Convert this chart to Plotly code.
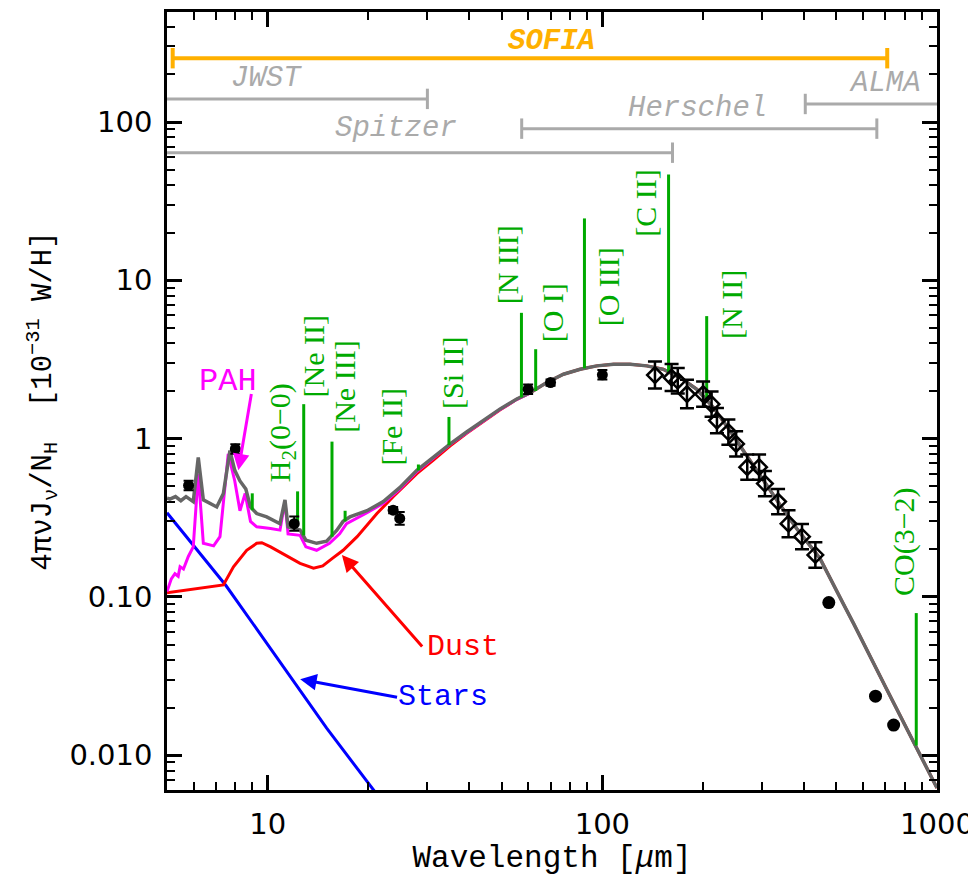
import math
import plotly.graph_objects as go

# ---------------- data ----------------
# total model (gray)
total_wl = [5.0, 5.1, 5.3, 5.5, 5.7, 5.99, 6.2, 6.42, 7.04, 7.37, 7.71, 7.97, 8.26, 8.6, 8.88,
            9.27, 9.93, 10.88, 11.26, 11.5, 12.49, 13.0, 14.0, 15.0, 16.07, 16.8, 17.6, 19.8,
            22.15, 24.8, 27.9, 31.2, 35.1, 39.3, 44.1, 49.5, 55.5, 60.8, 68.2, 76.5, 85.8, 96.2,
            108, 121, 135.8, 152, 170.7, 191.5, 214.8, 240.8, 270, 303, 340, 381, 427, 447, 524,
            563, 708, 833, 1000]
total_val = [0.42, 0.415, 0.43, 0.405, 0.43, 0.40, 0.76, 0.41, 0.37, 0.45, 0.84, 0.63, 0.54, 0.48,
             0.37, 0.336, 0.32, 0.29, 0.41, 0.277, 0.265, 0.228, 0.218, 0.225, 0.263, 0.30, 0.32,
             0.35, 0.40, 0.49, 0.63, 0.76, 0.926, 1.10, 1.30, 1.54, 1.78, 1.95, 2.26, 2.55, 2.74,
             2.88, 2.95, 2.95, 2.88, 2.74, 2.43, 2.05, 1.57, 1.12, 0.78, 0.54, 0.38, 0.27, 0.20,
             0.175, 0.091, 0.068, 0.026, 0.0133, 0.0062]

# dust + PAH (magenta)
pah_wl = [5.0, 5.15, 5.28, 5.4, 5.47, 5.6, 5.79, 5.99, 6.2, 6.42, 6.89, 7.2, 7.62, 7.97, 8.26,
          8.56, 8.88, 9.27, 10.2, 10.88, 11.26, 11.5, 12.49, 13.0, 14.0, 15.3, 16.4, 17.2, 19.8,
          22.15, 24.8, 27.9, 31.2, 35.1, 39.3, 44.1, 49.5, 55.5, 60.8]
pah_val = [0.108, 0.13, 0.14, 0.135, 0.155, 0.15, 0.18, 0.207, 0.60, 0.218, 0.21, 0.24, 0.80, 0.54,
           0.35, 0.45, 0.30, 0.277, 0.27, 0.264, 0.40, 0.25, 0.245, 0.207, 0.197, 0.218, 0.25,
           0.29, 0.34, 0.39, 0.48, 0.62, 0.75, 0.92, 1.09, 1.29, 1.53, 1.77, 1.94]

# dust continuum (red)
dust_wl = [5.0, 7.37, 7.9, 8.65, 9.27, 9.6, 10.2, 11.1, 11.3, 12.49, 13.7, 14.6, 15.6, 16.8, 18.5,
           21.2, 23.7, 27.9, 31.2, 35.1, 39.3, 44.1, 49.5, 55.5, 60.8, 68.2, 76.5, 85.8, 96.2, 108,
           121, 135.8, 152, 170.7, 191.5, 214.8, 240.8, 270, 303, 340, 381, 427, 447, 524, 563,
           708, 833, 1000]
dust_val = [0.106, 0.119, 0.155, 0.197, 0.218, 0.22, 0.207, 0.188, 0.183, 0.163, 0.152, 0.157,
            0.175, 0.197, 0.24, 0.336, 0.43, 0.60, 0.73, 0.90, 1.08, 1.28, 1.52, 1.77, 1.94, 2.26,
            2.55, 2.74, 2.88, 2.95, 2.95, 2.88, 2.74, 2.43, 2.05, 1.57, 1.12, 0.78, 0.54, 0.38,
            0.27, 0.20, 0.175, 0.091, 0.068, 0.026, 0.0133, 0.0062]

# stars (blue)
stars_wl = [5.0, 6.0, 7.5, 10.0, 15.0, 21.0]
stars_val = [0.34, 0.21, 0.118, 0.050, 0.0148, 0.0058]

# photometry: small points with small error bars
phot_wl = [5.8, 8.0, 12.0, 23.7, 24.8, 60, 70, 100]
phot_val = [0.506, 0.86, 0.29, 0.353, 0.313, 2.05, 2.26, 2.53]
phot_err_dex = [0.03, 0.03, 0.045, 0.02, 0.04, 0.03, 0.02, 0.03]

# sub-mm circles
submm_wl = [475, 655, 742]
submm_val = [0.092, 0.0236, 0.0155]

# diamonds with error bars
diam_wl = [143.6, 161, 168, 179, 200, 212, 220, 238, 251, 271, 294, 306, 335, 360, 395, 433]
diam_val = [2.52, 2.43, 2.32, 1.91, 1.91, 1.65, 1.30, 1.10, 0.926, 0.66, 0.66, 0.52, 0.40, 0.29,
            0.24, 0.184]
diam_err_dex = [0.085, 0.085, 0.08, 0.09, 0.08, 0.08, 0.08, 0.08, 0.08, 0.08, 0.08, 0.08, 0.08,
                0.085, 0.08, 0.08]

# emission lines
line_wl = [8.99, 12.28, 12.81, 15.56, 17.03, 28.2, 34.8, 57.3, 63.2, 88.4, 157.7, 205, 867]
line_top = [0.451, 0.464, 1.65, 0.957, 0.35, 0.686, 1.37, 6.23, 3.67, 24.6, 46.6, 5.94, 0.079]
line_bottom = [0.353, 0.28, 0.245, 0.24, 0.30, 0.63, 0.91, 1.82, 2.0, 2.78, 2.62, 1.8, 0.0115]

line_labels = ["H<sub>2</sub>(0\u22120)", "[Ne II]", "[Ne III]", "[Fe II]", "[Si II]", "[N III]",
               "[O I]", "[O III]", "[C II]", "[N II]", "CO(3\u22122)"]
label_wl = [11.0, 13.7, 17.0, 23.5, 35.8, 52.2, 71.0, 104, 135, 242, 800]
label_val = [1.09, 3.33, 2.12, 1.19, 2.60, 12.6, 6.24, 9.04, 30.9, 7.07, 0.224]

# instrument coverage bars
inst_names = ["SOFIA", "JWST", "Spitzer", "Herschel", "ALMA"]
inst_lo = [5.2, 0.6, 3.6, 57.4, 404]
inst_hi = [710, 30, 162, 661, 3000]
inst_level = [253, 140, 64, 90.8, 130]
inst_label_wl = [70.4, 9.9, 24.2, 192, 700]
inst_label_val = [323, 189, 91.5, 122, 176]

# ---------------- styles ----------------
GRAY_CURVE = "#666666"
GREEN = "#00AA00"
INST_GRAY = "#AAAAAA"
ORANGE = "#FFB000"
XMIN, XMAX = 5.0, 1000.0
MONO = "Liberation Mono"
SERIF = "Liberation Serif"

fig = go.Figure()

def curve(x, y, color, width=3):
    fig.add_trace(go.Scatter(x=x, y=y, mode="lines", line=dict(color=color, width=width),
                             hoverinfo="skip", showlegend=False))

curve(stars_wl, stars_val, "#0000FF", 3)
curve(dust_wl, dust_val, "#FF0000", 3)
curve(pah_wl, pah_val, "#FF00FF", 3)
curve(total_wl, total_val, GRAY_CURVE, 3.5)

# emission lines
lx, ly = [], []
for w, b, t in zip(line_wl, line_bottom, line_top):
    lx += [w, w, None]
    ly += [b, t, None]
fig.add_trace(go.Scatter(x=lx, y=ly, mode="lines", line=dict(color=GREEN, width=3),
                         hoverinfo="skip", showlegend=False))

# instrument bars
CAP = 1.16
for name, lo, hi, lev in zip(inst_names, inst_lo, inst_hi, inst_level):
    col = ORANGE if name == "SOFIA" else INST_GRAY
    wdt = 4 if name == "SOFIA" else 3
    bx, by = [lo, hi, None], [lev, lev, None]
    for e in (lo, hi):
        if XMIN <= e <= XMAX:
            bx += [e, e, None]
            by += [lev / CAP, lev * CAP, None]
    fig.add_trace(go.Scatter(x=bx, y=by, mode="lines", line=dict(color=col, width=wdt),
                             hoverinfo="skip", showlegend=False))

def errs(vals, dex):
    up = [v * (10 ** d - 1) for v, d in zip(vals, dex)]
    dn = [v * (1 - 10 ** (-d)) for v, d in zip(vals, dex)]
    return up, dn

pu, pd = errs(phot_val, phot_err_dex)
fig.add_trace(go.Scatter(x=phot_wl, y=phot_val, mode="markers",
                         marker=dict(symbol="circle", size=11, color="black"),
                         error_y=dict(type="data", array=pu, arrayminus=pd, color="black",
                                      thickness=2, width=5),
                         hoverinfo="skip", showlegend=False))
fig.add_trace(go.Scatter(x=submm_wl, y=submm_val, mode="markers",
                         marker=dict(symbol="circle", size=13, color="black"),
                         hoverinfo="skip", showlegend=False))
du, dd = errs(diam_val, diam_err_dex)
fig.add_trace(go.Scatter(x=diam_wl, y=diam_val, mode="markers",
                         marker=dict(symbol="diamond-open", size=12, color="black",
                                     line=dict(width=2.5, color="black")),
                         error_y=dict(type="data", array=du, arrayminus=dd, color="black",
                                      thickness=2.5, width=7),
                         hoverinfo="skip", showlegend=False))

L = math.log10
ann = []
for txt, w, v in zip(line_labels, label_wl, label_val):
    ann.append(dict(x=L(w), y=L(v), xref="x", yref="y", text=txt, showarrow=False,
                    textangle=-90, xanchor="center", yanchor="middle",
                    font=dict(family=SERIF, size=30, color=GREEN)))
for name, w, v in zip(inst_names, inst_label_wl, inst_label_val):
    if name == "SOFIA":
        txt, col = "<b><i>SOFIA</i></b>", ORANGE
    else:
        txt, col = "<i>%s</i>" % name, INST_GRAY
    ann.append(dict(x=L(w), y=L(v), xref="x", yref="y", text=txt, showarrow=False,
                    xanchor="center", yanchor="middle", font=dict(family=MONO, size=29, color=col)))

# component labels with arrows (text position, arrow tail, arrow head)
comp = [("PAH", "#FF00FF", 7.6, 2.28, 8.95, 1.955, 8.17, 0.63, 32),
        ("Dust", "#FF0000", 38.4, 0.0485, 29.2, 0.0476, 16.66, 0.1836, 30),
        ("Stars", "#0000FF", 33.3, 0.0232, 24.6, 0.0231, 12.5, 0.0302, 30)]
for txt, col, tx, ty, ax0, ay0, hx, hy, fs in comp:
    ann.append(dict(x=L(tx), y=L(ty), xref="x", yref="y", text=txt, showarrow=False,
                    xanchor="center", yanchor="middle", font=dict(family=MONO, size=fs, color=col)))
    ann.append(dict(x=L(hx), y=L(hy), xref="x", yref="y", ax=L(ax0), ay=L(ay0),
                    axref="x", ayref="y", text="", showarrow=True, arrowhead=2,
                    arrowsize=1.1, arrowwidth=3, arrowcolor=col, standoff=0, startstandoff=0))

def minor_vals(lo_exp, hi_exp):
    return [m * 10 ** e for e in range(lo_exp, hi_exp) for m in range(2, 10)]

axis_common = dict(type="log", showgrid=False, zeroline=False, showline=True, linecolor="black",
                   linewidth=2.5, mirror="allticks", ticks="inside", ticklen=15, tickwidth=2.5,
                   tickcolor="black", tickfont=dict(family="DejaVu Sans", size=29, color="black"))

# the page body adds an 8px offset, so the figure is sized to compensate
fig.update_layout(
    width=968, height=868,
    margin=dict(l=159, r=39, t=1, b=86),
    paper_bgcolor="white", plot_bgcolor="white",
    showlegend=False,
    annotations=ann,
    xaxis=dict(axis_common, range=[L(XMIN), L(XMAX)], tickmode="array",
               tickvals=[10, 100, 1000], ticktext=["10", "100", "1000"],
               ticklabelstandoff=6,
               minor=dict(ticks="inside", ticklen=8, tickwidth=2, tickcolor="black",
                          tickvals=minor_vals(0, 3), showgrid=False),
               title=dict(text="Wavelength [<i>\u03bc</i>m]", standoff=0,
                          font=dict(family=MONO, size=31, color="black"))),
    yaxis=dict(axis_common, range=[-2.22, 2.695], tickmode="array",
               tickvals=[0.01, 0.1, 1, 10, 100], ticktext=["0.010", "0.10", "1", "10", "100"],
               ticklabelstandoff=6,
               minor=dict(ticks="inside", ticklen=8, tickwidth=2, tickcolor="black",
                          tickvals=minor_vals(-3, 3), showgrid=False),
               title=dict(text="4\u03c0\u03bdJ<sub>\u03bd</sub>/N<sub>H</sub>  [10<sup>\u221231</sup> W/H]",
                          standoff=10, font=dict(family=MONO, size=29, color="black"))),
)

fig.write_html("out.html")
